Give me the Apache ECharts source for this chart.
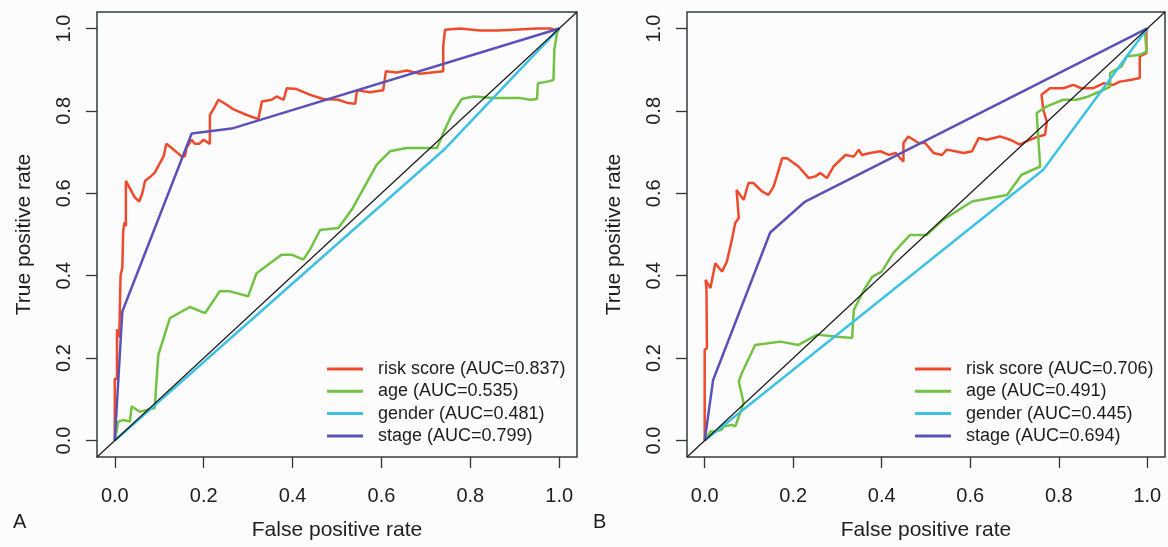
<!DOCTYPE html>
<html>
<head>
<meta charset="utf-8">
<script src="https://cdn.jsdelivr.net/npm/echarts@6/dist/echarts.min.js"></script>
<style>
html,body{margin:0;padding:0;background:#fcfcfd;}
#c{width:1168px;height:547px;}
</style>
</head>
<body>
<div id="c"></div>
<script>
// ---- data ----
const tickValues = [0, 0.2, 0.4, 0.6, 0.8, 1.0];
const tickLabels = ['0.0', '0.2', '0.4', '0.6', '0.8', '1.0'];
const namesA = ['risk score (AUC=0.837)', 'age (AUC=0.535)', 'gender (AUC=0.481)', 'stage (AUC=0.799)'];
const namesB = ['risk score (AUC=0.706)', 'age (AUC=0.491)', 'gender (AUC=0.445)', 'stage (AUC=0.694)'];
const panelLetters = ['A', 'B'];
const xTitle = 'False positive rate';
const yTitle = 'True positive rate';
const diagonal = [[-0.04, -0.04], [1.04, 1.04]];

const riskA = [[0,0],[0,0.15],[0.005,0.15],[0.005,0.27],[0.01,0.25],[0.013,0.40],[0.017,0.42],[0.019,0.51],[0.022,0.53],[0.025,0.52],[0.025,0.63],[0.035,0.61],[0.045,0.59],[0.055,0.58],[0.062,0.60],[0.068,0.63],[0.08,0.64],[0.09,0.65],[0.10,0.67],[0.11,0.69],[0.116,0.72],[0.128,0.71],[0.139,0.70],[0.15,0.69],[0.158,0.69],[0.161,0.71],[0.173,0.73],[0.18,0.72],[0.19,0.72],[0.2,0.73],[0.214,0.72],[0.214,0.79],[0.225,0.81],[0.233,0.827],[0.252,0.815],[0.265,0.805],[0.275,0.80],[0.297,0.79],[0.323,0.78],[0.331,0.823],[0.353,0.827],[0.364,0.835],[0.38,0.827],[0.387,0.855],[0.409,0.853],[0.44,0.839],[0.469,0.829],[0.503,0.827],[0.522,0.82],[0.541,0.817],[0.545,0.85],[0.574,0.845],[0.604,0.85],[0.61,0.896],[0.634,0.893],[0.657,0.898],[0.687,0.89],[0.739,0.896],[0.739,0.956],[0.743,0.997],[0.777,1.0],[0.822,0.995],[0.86,0.995],[0.897,0.997],[0.95,1.0],[0.98,1.0],[0.995,0.995],[1,1]];
const ageA = [[0,0],[0.008,0.046],[0.019,0.05],[0.034,0.046],[0.038,0.083],[0.056,0.07],[0.075,0.075],[0.09,0.079],[0.094,0.147],[0.098,0.208],[0.124,0.297],[0.169,0.324],[0.203,0.309],[0.236,0.362],[0.259,0.362],[0.30,0.35],[0.319,0.406],[0.375,0.451],[0.398,0.451],[0.424,0.439],[0.439,0.463],[0.462,0.511],[0.503,0.516],[0.533,0.56],[0.589,0.669],[0.619,0.702],[0.657,0.71],[0.725,0.71],[0.739,0.746],[0.758,0.79],[0.781,0.829],[0.807,0.835],[0.852,0.831],[0.912,0.831],[0.935,0.827],[0.95,0.829],[0.952,0.867],[0.973,0.871],[0.987,0.875],[0.989,0.948],[0.995,0.989],[1,1]];
const genderA = [[0,0],[0.74,0.705],[1,1]];
const stageA = [[0,0],[0.017,0.313],[0.173,0.745],[0.263,0.757],[1,1]];

const riskB = [[0,0],[0,0.07],[0.004,0.074],[0,0.22],[0.005,0.224],[0.004,0.366],[0.002,0.39],[0.013,0.37],[0.024,0.43],[0.039,0.41],[0.05,0.434],[0.062,0.49],[0.069,0.528],[0.077,0.54],[0.072,0.608],[0.088,0.584],[0.099,0.625],[0.11,0.625],[0.13,0.604],[0.144,0.596],[0.156,0.617],[0.175,0.685],[0.186,0.685],[0.212,0.665],[0.235,0.637],[0.25,0.641],[0.261,0.649],[0.276,0.637],[0.291,0.665],[0.318,0.693],[0.337,0.689],[0.348,0.706],[0.355,0.693],[0.374,0.698],[0.397,0.702],[0.416,0.693],[0.431,0.698],[0.442,0.685],[0.449,0.677],[0.449,0.722],[0.46,0.738],[0.483,0.722],[0.498,0.722],[0.517,0.698],[0.536,0.693],[0.547,0.706],[0.566,0.702],[0.585,0.698],[0.604,0.702],[0.619,0.734],[0.637,0.73],[0.667,0.738],[0.69,0.73],[0.712,0.718],[0.735,0.73],[0.754,0.738],[0.769,0.742],[0.773,0.774],[0.765,0.803],[0.761,0.839],[0.78,0.855],[0.81,0.855],[0.833,0.863],[0.851,0.855],[0.878,0.855],[0.901,0.867],[0.923,0.863],[0.938,0.871],[0.961,0.875],[0.983,0.88],[0.983,0.932],[0.998,0.94],[0.998,0.993],[1,1]];
const ageB = [[0,0],[0.013,0.022],[0.024,0.022],[0.038,0.026],[0.042,0.034],[0.062,0.038],[0.069,0.034],[0.088,0.091],[0.077,0.143],[0.084,0.164],[0.114,0.232],[0.171,0.24],[0.212,0.232],[0.254,0.257],[0.299,0.252],[0.333,0.249],[0.337,0.317],[0.36,0.366],[0.379,0.398],[0.40,0.41],[0.426,0.455],[0.464,0.499],[0.502,0.499],[0.539,0.536],[0.604,0.58],[0.683,0.596],[0.716,0.645],[0.758,0.665],[0.75,0.795],[0.773,0.811],[0.81,0.827],[0.84,0.827],[0.867,0.835],[0.893,0.847],[0.916,0.859],[0.916,0.892],[0.942,0.908],[0.953,0.932],[0.983,0.936],[0.998,0.944],[0.995,0.989],[1,1]];
const genderB = [[0,0],[0.765,0.657],[1,1]];
const stageB = [[0,0],[0.019,0.147],[0.148,0.505],[0.227,0.58],[1,1]];

// ---- styles ----
const colors = ['#F04A2C', '#72C243', '#3EC1E3', '#5A52B8'];
const FONT = 'Liberation Sans, Arial, sans-serif';
const TXT = '#1e1e1e';

const chart = echarts.init(document.getElementById('c'));

function fmt(v) { return tickLabels[tickValues.findIndex(t => Math.abs(t - v) < 1e-9)]; }
function xAxisFor(gi) {
  return {
    type: 'value', gridIndex: gi, min: -0.04, max: 1.04,
    name: xTitle, nameLocation: 'middle', nameGap: 63,
    nameTextStyle: {fontFamily: FONT, fontSize: 21, color: TXT},
    axisLine: {show: false, onZero: false},
    axisTick: {show: true, length: 11, lineStyle: {color: '#333', width: 1.3}, customValues: tickValues},
    axisLabel: {customValues: tickValues, margin: 29, fontFamily: FONT, fontSize: 20, color: TXT, formatter: fmt},
    splitLine: {show: false}
  };
}
function yAxisFor(gi) {
  return {
    type: 'value', gridIndex: gi, min: -0.04, max: 1.04,
    name: yTitle, nameLocation: 'middle', nameGap: 62,
    nameTextStyle: {fontFamily: FONT, fontSize: 21, color: TXT},
    axisLine: {show: false, onZero: false},
    axisTick: {show: true, length: 11, lineStyle: {color: '#333', width: 1.3}, customValues: tickValues},
    axisLabel: {customValues: tickValues, rotate: 90, margin: 23, fontFamily: FONT, fontSize: 20, color: TXT, formatter: fmt},
    splitLine: {show: false}
  };
}
function lineSeries(name, data, color, gi) {
  return {
    type: 'line', name: name, data: data, xAxisIndex: gi, yAxisIndex: gi,
    showSymbol: false, symbol: 'none', smooth: false, animation: false,
    lineStyle: {color: color, width: 2.5}, itemStyle: {color: color}
  };
}
const panels = [
  {names: namesA, sets: [riskA, ageA, genderA, stageA]},
  {names: namesB, sets: [riskB, ageB, genderB, stageB]}
];
const series = [];
panels.forEach((p, gi) => {
  p.sets.forEach((d, k) => series.push(lineSeries(p.names[k], d, colors[k], gi)));
  series.push({type: 'line', data: diagonal, xAxisIndex: gi, yAxisIndex: gi, symbol: 'none',
    animation: false, silent: true, lineStyle: {color: '#1a1a1a', width: 1.2}, z: 3});
});
function legendFor(gi, left) {
  return {
    data: panels[gi].names, orient: 'vertical', left: left, top: 360, padding: 0,
    itemGap: 4.3, itemWidth: 36, itemHeight: 3, icon: 'rect', selectedMode: false,
    textStyle: {fontFamily: FONT, fontSize: 18, color: TXT, lineHeight: 18, padding: [0, 0, 0, 10]}
  };
}
chart.setOption({
  backgroundColor: '#fcfcfd',
  animation: false,
  title: [
    {text: panelLetters[0], left: 13, top: 512, textStyle: {fontFamily: FONT, fontSize: 20, fontWeight: 'normal', color: TXT}, padding: 0},
    {text: panelLetters[1], left: 593, top: 512, textStyle: {fontFamily: FONT, fontSize: 20, fontWeight: 'normal', color: TXT}, padding: 0}
  ],
  grid: [
    {left: 97, top: 12, width: 480, height: 445, show: true, borderColor: '#333a40', borderWidth: 1.5, backgroundColor: 'transparent'},
    {left: 687, top: 12, width: 478, height: 445, show: true, borderColor: '#333a40', borderWidth: 1.5, backgroundColor: 'transparent'}
  ],
  xAxis: [xAxisFor(0), xAxisFor(1)],
  yAxis: [yAxisFor(0), yAxisFor(1)],
  legend: [legendFor(0, 327), legendFor(1, 915)],
  series: series
});
</script>
</body>
</html>
